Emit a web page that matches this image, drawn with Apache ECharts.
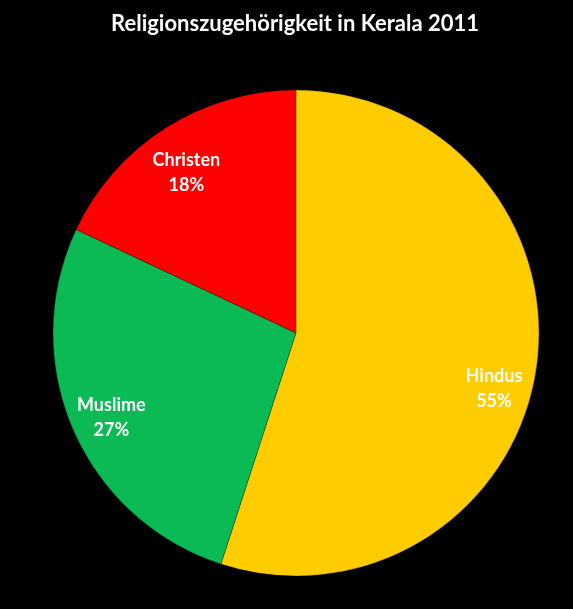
<!DOCTYPE html>
<html><head><meta charset="utf-8">
<script src="https://cdn.jsdelivr.net/npm/echarts@6/dist/echarts.min.js"></script>
<style>html,body{margin:0;padding:0;background:#000;}#c{width:573px;height:609px;}</style>
</head><body><div id="c"></div>
<script>
const categories = ['Hindus', 'Muslime', 'Christen'];
const values = [55, 27, 18];
const colors = ['#FFCC00', '#0BB955', '#FF0000'];
const titleText = 'Religionszugehörigkeit in Kerala 2011';
const labelOffsets = [[-4, 24], [3, 3], [0, 12]];

const data = categories.map((n, i) => ({ name: n, value: values[i], itemStyle: { color: colors[i] } }));
const chart = echarts.init(document.getElementById('c'));
const font = 'Lato, "Open Sans", sans-serif';
chart.setOption({
  backgroundColor: '#000',
  animation: false,
  title: {
    text: titleText, left: 290, top: 8, textAlign: 'center',
    textStyle: { color: '#fff', fontSize: 22, fontWeight: 'bold', fontFamily: font }
  },
  series: [
    {
      type: 'pie', center: [296, 333], radius: [0, 243], startAngle: 90, clockwise: true,
      data: data, label: { show: false }, labelLine: { show: false },
      itemStyle: { borderColor: 'rgba(0,0,0,0.25)', borderWidth: 1 },
      emphasis: { disabled: true }
    },
    {
      type: 'pie', center: [296, 333], radius: [160, 243], startAngle: 90, clockwise: true,
      data: data.map((d, i) => ({ name: d.name, value: d.value, itemStyle: { color: 'rgba(0,0,0,0)' },
        label: { offset: labelOffsets[i] } })),
      silent: true,
      label: {
        show: true, position: 'inside', formatter: p => p.name + '\n' + p.value + '%',
        color: '#fff', fontSize: 18, fontWeight: 'bold', fontFamily: font, lineHeight: 25
      },
      labelLine: { show: false },
      emphasis: { disabled: true }
    }
  ]
});
</script></body></html>
